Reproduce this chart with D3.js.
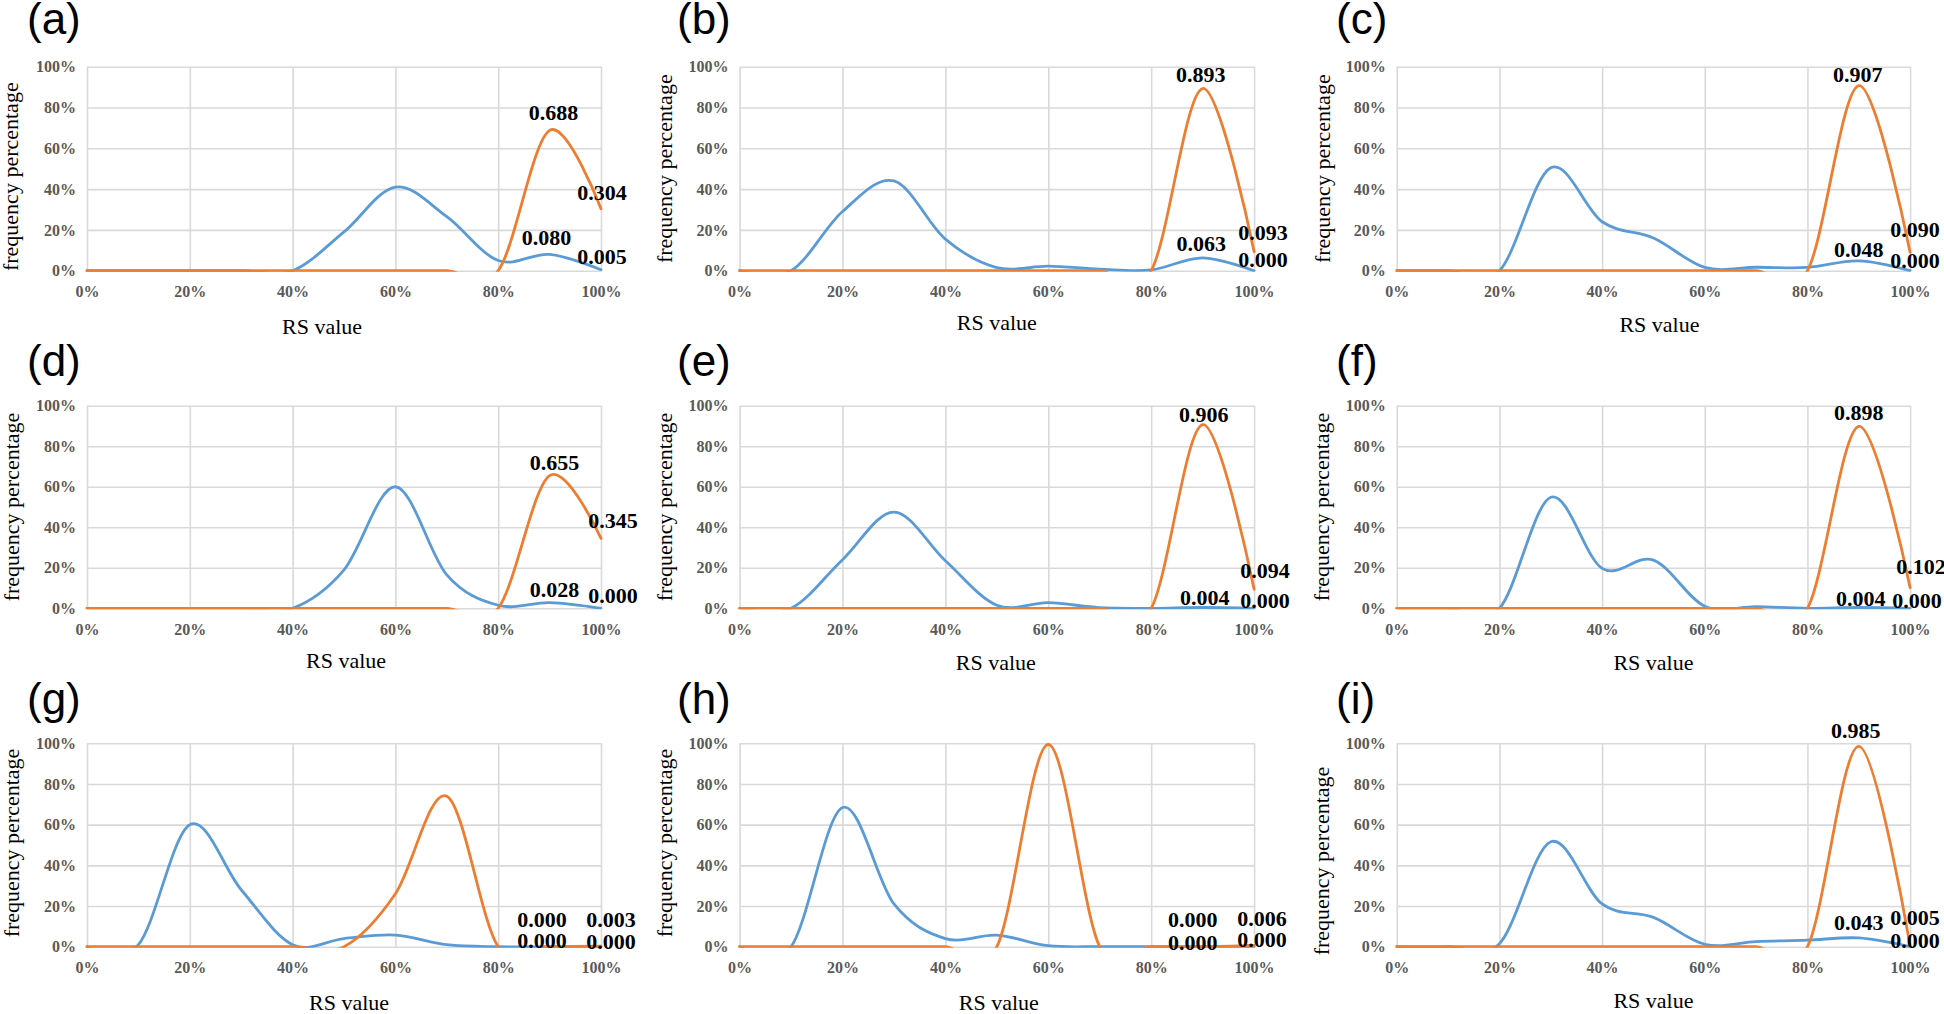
<!DOCTYPE html>
<html><head><meta charset="utf-8">
<script src="https://cdn.jsdelivr.net/npm/d3@7"></script>
<style>
html,body{margin:0;padding:0;background:#fff;}
svg{display:block;}
</style></head><body>
<svg id="chart" width="1944" height="1014"></svg>
<script>
// ---------- data ----------
const rsValues = [0, 0.1, 0.2, 0.3, 0.4, 0.5, 0.6, 0.7, 0.8, 0.9, 1.0];
const xTickValues = [0, 0.2, 0.4, 0.6, 0.8, 1.0];
const yTickValues = [0, 0.2, 0.4, 0.6, 0.8, 1.0];
const panelNames = ["(a)", "(b)", "(c)", "(d)", "(e)", "(f)", "(g)", "(h)", "(i)"];
const xAxisTitle = "RS value";
const yAxisTitle = "frequency percentage";

const blueA   = [0, 0, 0, 0, 0, 0.19, 0.41, 0.265, 0.05, 0.080, 0.005];
const orangeA = [0, 0, 0, 0, 0, 0, 0, 0, 0, 0.688, 0.304];
const blueB   = [0, 0, 0.29, 0.44, 0.155, 0.015, 0.022, 0.008, 0.004, 0.063, 0.000];
const orangeB = [0, 0, 0, 0, 0, 0, 0, 0, 0, 0.893, 0.093];
const blueC   = [0, 0, 0, 0.505, 0.24, 0.16, 0.016, 0.017, 0.016, 0.048, 0.000];
const orangeC = [0, 0, 0, 0, 0, 0, 0, 0, 0, 0.907, 0.090];
const blueD   = [0, 0, 0, 0, 0, 0.19, 0.60, 0.165, 0.015, 0.028, 0.000];
const orangeD = [0, 0, 0, 0, 0, 0, 0, 0, 0, 0.655, 0.345];
const blueE   = [0, 0, 0.24, 0.475, 0.235, 0.015, 0.028, 0.003, 0, 0.004, 0.000];
const orangeE = [0, 0, 0, 0, 0, 0, 0, 0, 0, 0.906, 0.094];
const blueF   = [0, 0, 0, 0.548, 0.197, 0.238, 0.01, 0.008, 0, 0.004, 0.000];
const orangeF = [0, 0, 0, 0, 0, 0, 0, 0, 0, 0.898, 0.102];
const blueG   = [0, 0.01, 0.60, 0.28, 0.01, 0.04, 0.057, 0.01, 0, 0.000, 0.000];
const orangeG = [0, 0, 0, 0, 0, 0, 0.26, 0.74, 0, 0.000, 0.003];
const blueH   = [0, 0, 0.684, 0.21, 0.04, 0.057, 0.005, 0, 0, 0.000, 0.000];
const orangeH = [0, 0, 0, 0, 0, 0, 0.994, 0, 0, 0.000, 0.006];
const blueI   = [0, 0, 0.015, 0.516, 0.21, 0.144, 0.012, 0.025, 0.032, 0.043, 0.000];
const orangeI = [0, 0, 0, 0, 0, 0, 0, 0, 0, 0.985, 0.005];

const blueSeries = [blueA, blueB, blueC, blueD, blueE, blueF, blueG, blueH, blueI];
const orangeSeries = [orangeA, orangeB, orangeC, orangeD, orangeE, orangeF, orangeG, orangeH, orangeI];
const labelIndices = [9, 10];

// ---------- layout (positions / styles) ----------
const colLeft = [87, 739.6, 1396.8];
const colWidth = [514, 514.5, 513.3];
const rowTop = [66.7, 405.7, 743.3];
const rowHeight = [204, 202.6, 203.4];
const nameLeft = [27, 677, 1336];
const nameBaseline = [34, 376, 714];
// per panel: y-title dx/dy, x-title dx / baseline offset
const titleNudge = [
  {ydx: -69, ydy: 8,  xdx: -22, xb: 63.5},
  {ydx: -68, ydy: 0,  xdx: 0,   xb: 59.5},
  {ydx: -67, ydy: 0,  xdx: 6,   xb: 61},
  {ydx: -68, ydy: 0,  xdx: 2,   xb: 60},
  {ydx: -68, ydy: 0,  xdx: -1,  xb: 61.5},
  {ydx: -68, ydy: 0,  xdx: 0,   xb: 61.5},
  {ydx: -68, ydy: -2, xdx: 5,   xb: 63},
  {ydx: -68, ydy: -2, xdx: 2,   xb: 63},
  {ydx: -68, ydy: 16, xdx: 0,   xb: 61.5}
];
// label nudges [dx, dy] for orange idx9, orange idx10, blue idx9, blue idx10
const labelNudge = [
  {o: [[4, -10], [1, -9]],     b: [[-3, -9], [1, -6]]},
  {o: [[-2, -7], [9, -12]],    b: [[-1.5, -7], [9, -4]]},
  {o: [[-1, -4], [5, -15]],    b: [[0, -3.5], [5, -3]]},
  {o: [[5, -5.6], [12, -10]],  b: [[5, -6], [12, -5]]},
  {o: [[1, -3], [11, -11]],    b: [[2, -2.5], [11, 0]]},
  {o: [[0, -6], [11, -14]],    b: [[2, -1], [7, 0]]},
  {o: [[-7.5, -20], [10, -19.5]], b: [[-7.5, 1.6], [10, 2.6]]},
  {o: [[-10, -20], [8, -19]],  b: [[-10, 3], [8, 0]]},
  {o: [[-3, -8], [5, -21]],    b: [[0, -8], [5, 1.6]]}
];

const serif = "'Liberation Serif', 'Times New Roman', Times, serif";
const sans = "'Liberation Sans', Arial, sans-serif";
const blueColor = "#5B9BD5";
const orangeColor = "#ED7D31";
const gridColor = "#d9d9d9";
const tickColor = "#595959";

const svg = d3.select("#chart");
const pct = d3.format(".0%");
const f3 = d3.format(".3f");

panelNames.forEach((name, p) => {
  const col = p % 3, row = Math.floor(p / 3);
  const L = colLeft[col], W = colWidth[col], T = rowTop[row], H = rowHeight[row];
  const x = d3.scaleLinear().domain([0, 1]).range([L, L + W]);
  const y = d3.scaleLinear().domain([0, 1]).range([T + H, T]);
  const g = svg.append("g");

  // gridlines + tick labels through axes
  const yAxis = d3.axisLeft(y).tickValues(yTickValues).tickFormat(pct).tickSize(-W).tickPadding(11);
  const gy = g.append("g").attr("transform", `translate(${L},0)`).call(yAxis);
  const xAxis = d3.axisBottom(x).tickValues(xTickValues).tickFormat(pct).tickSize(-H).tickPadding(15);
  const gx = g.append("g").attr("transform", `translate(0,${T + H})`).call(xAxis);
  [gx, gy].forEach(ax => {
    ax.select(".domain").remove();
    ax.selectAll(".tick line").attr("stroke", gridColor).attr("stroke-width", 1.6);
    ax.selectAll(".tick text")
      .attr("fill", tickColor).style("font-family", serif)
      .style("font-weight", "bold").style("font-size", "16px");
  });

  // clip
  const clipId = "clip" + p;
  svg.append("clipPath").attr("id", clipId).append("rect")
    .attr("x", L - 2).attr("y", T - 3).attr("width", W + 4).attr("height", H + 4);

  const line = d3.line()
    .x((d, i) => x(rsValues[i]))
    .y(d => y(d))
    .curve(d3.curveCardinal.tension(0));

  const lines = g.append("g").attr("clip-path", `url(#${clipId})`);
  lines.append("path").attr("d", line(blueSeries[p]))
    .attr("fill", "none").attr("stroke", blueColor).attr("stroke-width", 2.8)
    .attr("stroke-linejoin", "round").attr("stroke-linecap", "round");
  lines.append("path").attr("d", line(orangeSeries[p]))
    .attr("fill", "none").attr("stroke", orangeColor).attr("stroke-width", 2.8)
    .attr("stroke-linejoin", "round").attr("stroke-linecap", "round");

  // data labels
  const nud = labelNudge[p];
  [["o", orangeSeries[p]], ["b", blueSeries[p]]].forEach(([key, series]) => {
    labelIndices.forEach((idx, k) => {
      const v = series[idx];
      g.append("text")
        .attr("x", x(rsValues[idx]) + nud[key][k][0])
        .attr("y", y(v) + nud[key][k][1])
        .attr("text-anchor", "middle")
        .style("font-family", serif).style("font-weight", "bold").style("font-size", "22px")
        .attr("fill", "#000")
        .text(f3(v));
    });
  });

  // titles
  const tn = titleNudge[p];
  g.append("text")
    .attr("x", L + W / 2 + tn.xdx).attr("y", T + H + tn.xb)
    .attr("text-anchor", "middle")
    .style("font-family", serif).style("font-size", "22px").attr("fill", "#000")
    .text(xAxisTitle);
  const ty = T + H / 2 + tn.ydy, tx = L + tn.ydx;
  g.append("text")
    .attr("transform", `translate(${tx},${ty}) rotate(-90)`)
    .attr("text-anchor", "middle")
    .style("font-family", serif).style("font-size", "22px").attr("fill", "#000")
    .text(yAxisTitle);

  // panel name
  g.append("text")
    .attr("x", nameLeft[col]).attr("y", nameBaseline[row])
    .style("font-family", sans).style("font-size", "44px").attr("fill", "#000")
    .text(name);
});
</script>
</body></html>
